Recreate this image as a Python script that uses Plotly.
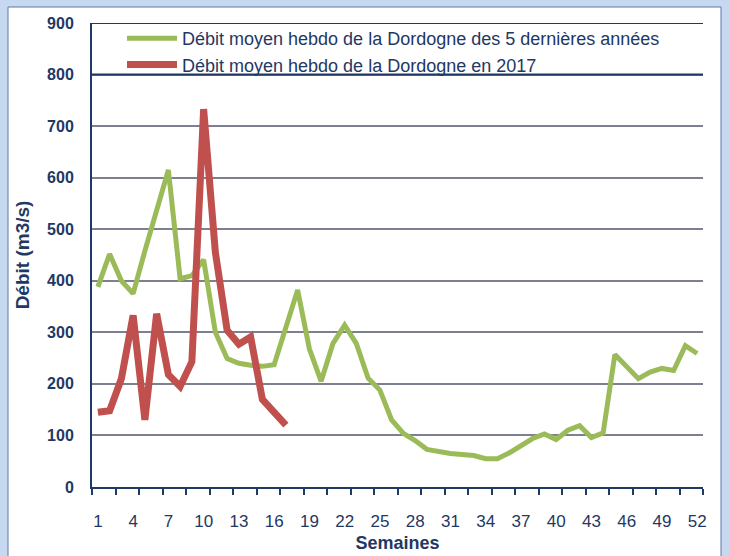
import plotly.graph_objects as go

weeks = list(range(1, 53))
green_label = "Débit moyen hebdo de la Dordogne des 5 dernières années"
red_label = "Débit moyen hebdo de la Dordogne en 2017"

green_values = [388, 452, 400, 375, 458, 540, 615, 404, 410, 441,
                300, 249, 240, 236, 234, 237, 313, 382, 268, 205,
                278, 314, 278, 211, 188, 130, 104, 90, 73, 68,
                65, 63, 61, 55, 55, 66, 80, 94, 103, 92,
                110, 119, 96, 105, 257, 233, 210, 223, 230, 226,
                274, 259]

red_weeks = list(range(1, 18))
red_values = [145, 148, 210, 333, 130, 336, 218, 195, 243, 733,
              455, 304, 277, 291, 170, 146, 120]

x_tick_vals = list(range(1, 53, 3))
y_tick_vals = list(range(0, 1000, 100))

NAVY = "#1f3864"
FONT = "Liberation Sans, Arial, sans-serif"

fig = go.Figure()
fig.add_trace(go.Scatter(x=weeks, y=green_values, mode="lines", name=green_label,
                         line=dict(color="#9bbb59", width=5), cliponaxis=False))
fig.add_trace(go.Scatter(x=red_weeks, y=red_values, mode="lines", name=red_label,
                         line=dict(color="#c0504d", width=7), cliponaxis=False))

L, R, T, B = 92, 26, 23, 69
W, H = 729, 556
pw, ph = W - L - R, H - T - B

def px(xp):
    return (xp - L) / pw

def py(yp):
    return 1 - (yp - T) / ph

shapes = [
    dict(type="rect", xref="paper", yref="paper", x0=px(8), x1=px(721), y0=py(560), y1=py(7),
         fillcolor="white", line=dict(color="#5a78a8", width=1), layer="below"),
    dict(type="line", xref="paper", yref="y", x0=0, x1=1, y0=800, y1=800,
         line=dict(color=NAVY, width=2)),
    dict(type="line", xref="paper", yref="y", x0=0, x1=1, y0=900, y1=900,
         line=dict(color=NAVY, width=2)),
]

fig.update_layout(
    width=W, height=H,
    margin=dict(l=L, r=R, t=T, b=B, autoexpand=False),
    paper_bgcolor="#c6d9f0",
    plot_bgcolor="white",
    shapes=shapes,
    font=dict(family=FONT, color=NAVY),
    showlegend=True,
    legend=dict(x=px(122), y=py(20), xanchor="left", yanchor="top",
                bgcolor="rgba(0,0,0,0)", font=dict(size=18, family=FONT, color=NAVY),
                itemwidth=50, tracegroupgap=0),
    xaxis=dict(range=[0.5, 52.5], tickmode="array", tickvals=x_tick_vals,
               ticktext=[str(v) for v in x_tick_vals], ticks="", automargin=False,
               tickfont=dict(size=17, family=FONT, color=NAVY),
               showgrid=False, zeroline=False, showline=True, linecolor=NAVY, linewidth=2,
               ticklabelstandoff=18,
               minor=dict(tickmode="linear", tick0=0.5, dtick=2, ticks="outside",
                          ticklen=6, tickwidth=2, tickcolor=NAVY, showgrid=False),
               title=dict(text="<b>Semaines</b>", font=dict(size=18, family=FONT, color=NAVY),
                          standoff=6)),
    yaxis=dict(range=[0, 900], tickmode="array", tickvals=y_tick_vals,
               ticktext=["<b>%d</b>" % v for v in y_tick_vals], ticks="", automargin=False,
               tickfont=dict(size=16, family=FONT, color=NAVY),
               showgrid=True, gridcolor="#7d8093", gridwidth=2, zeroline=False,
               showline=True, linecolor=NAVY, linewidth=2, ticklabelstandoff=13,
               title=dict(text="<b>Débit (m3/s)</b>", font=dict(size=19, family=FONT, color=NAVY),
                          standoff=12)),
)

fig.write_html("out.html", config={"displayModeBar": False},
               post_script="document.body.style.margin='0';")
